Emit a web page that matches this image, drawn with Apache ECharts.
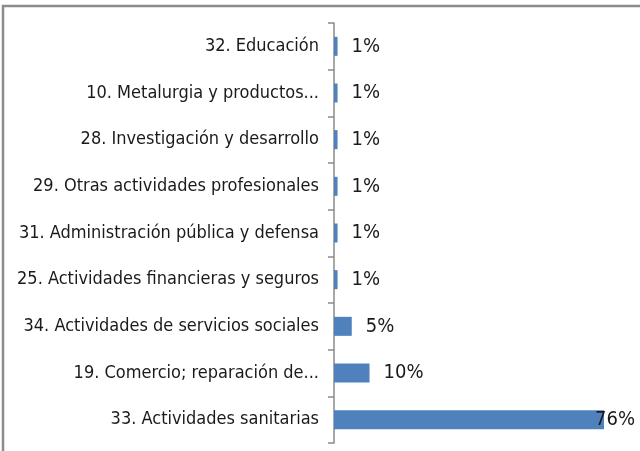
<!DOCTYPE html>
<html>
<head>
<meta charset="utf-8">
<script src="https://cdn.jsdelivr.net/npm/echarts@6/dist/echarts.min.js"></script>
<style>
  html, body { margin: 0; padding: 0; background: #fff; }
  #chart { width: 640px; height: 451px; }
</style>
</head>
<body>
<div id="chart"></div>
<script>
// sectores, de arriba a abajo
const sectores = [
  "32. Educación",
  "10. Metalurgia y productos...",
  "28. Investigación y desarrollo",
  "29. Otras actividades profesionales",
  "31. Administración pública y defensa",
  "25. Actividades financieras y seguros",
  "34. Actividades de servicios sociales",
  "19. Comercio; reparación de...",
  "33. Actividades sanitarias"
]
const porcentajes = [1, 1, 1, 1, 1, 1, 5, 10, 76]

const fontFamily = "'Liberation Sans Narrow', 'DejaVu Sans Condensed', sans-serif"
const myChart = echarts.init(document.getElementById("chart"))

const seriesData = porcentajes.map((v, i) => {
  const item = { value: v }
  // la etiqueta de la barra mas larga se monta sobre el final de la barra
  if (i === porcentajes.length - 1) {
    item.label = { distance: -9 }
  }
  return item
})

myChart.setOption({
  animation: false,
  graphic: [{
    type: "rect",
    shape: { x: 3, y: 6, width: 700, height: 500 },
    style: { fill: "none", stroke: "#8c8c8c", lineWidth: 2.5 },
    silent: true
  }],
  grid: { left: 334, right: 36, top: 23, bottom: 8, outerBoundsMode: "none", containLabel: false },
  xAxis: {
    type: "value",
    min: 0,
    max: 76,
    show: false
  },
  yAxis: {
    type: "category",
    data: sectores,
    inverse: true,
    axisLine: { lineStyle: { color: "#8a8a8a", width: 1.5 } },
    axisTick: { show: true, length: 6, lineStyle: { color: "#8a8a8a", width: 1.5 } },
    axisLabel: {
      margin: 15,
      fontFamily: fontFamily,
      fontSize: 18,
      color: "#1a1a1a"
    },
    splitLine: { show: false }
  },
  series: [{
    type: "bar",
    data: seriesData,
    barWidth: 19,
    itemStyle: { color: "#4f81bd" },
    label: {
      show: true,
      position: "right",
      distance: 14,
      formatter: "{c}%",
      fontFamily: fontFamily,
      fontSize: 20,
      color: "#1a1a1a"
    }
  }]
})
</script>
</body>
</html>
